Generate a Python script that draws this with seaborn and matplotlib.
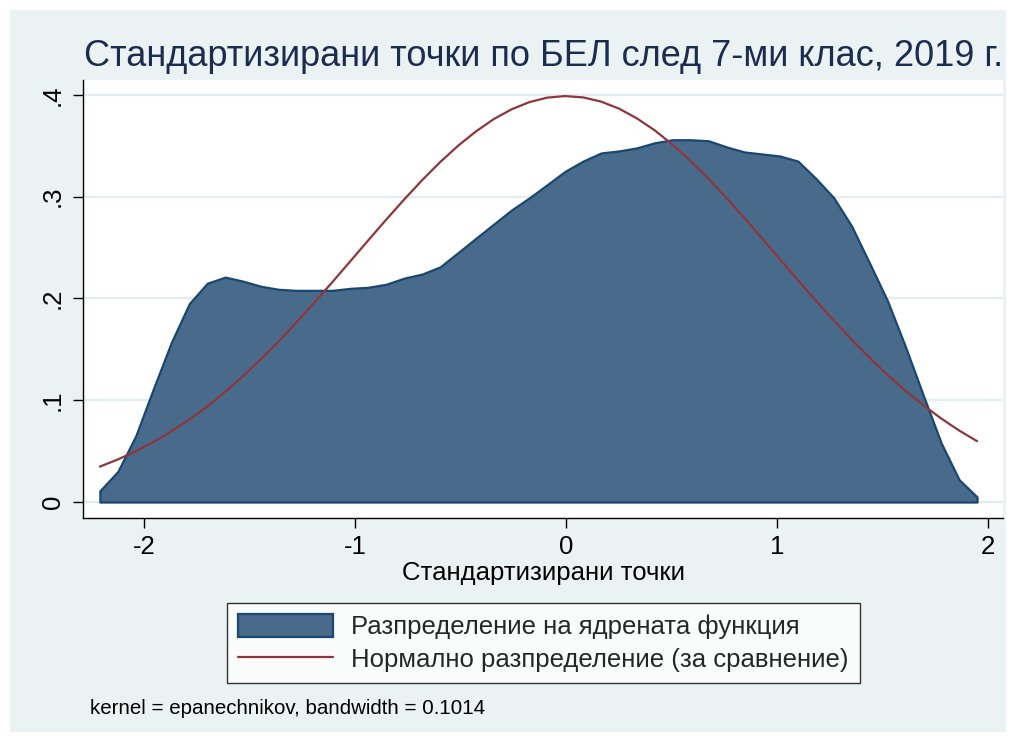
import matplotlib
matplotlib.use("Agg")
import matplotlib.pyplot as plt
from matplotlib.patches import Patch, Rectangle
from matplotlib.lines import Line2D
import seaborn as sns
import pandas as pd

# -----------------------
# Data
# -----------------------

x_points = [
    -2.209, -2.124, -2.039, -1.954, -1.870, -1.785, -1.700, -1.615, -1.530, -1.446,
    -1.361, -1.276, -1.191, -1.106, -1.021, -0.937, -0.852, -0.767, -0.682, -0.597,
    -0.512, -0.428, -0.343, -0.258, -0.173, -0.088, -0.004, 0.081, 0.166, 0.251,
    0.336, 0.420, 0.505, 0.590, 0.675, 0.760, 0.845, 0.929, 1.014, 1.099,
    1.184, 1.269, 1.354, 1.438, 1.523, 1.608, 1.693, 1.778, 1.863, 1.948,
]

kernel_density = [
    0.011, 0.030, 0.065, 0.112, 0.157, 0.195, 0.215, 0.221, 0.217, 0.212,
    0.209, 0.208, 0.208, 0.208, 0.210, 0.211, 0.214, 0.220, 0.224, 0.231,
    0.245, 0.259, 0.273, 0.287, 0.299, 0.312, 0.325, 0.335, 0.343, 0.345,
    0.348, 0.353, 0.356, 0.356, 0.355, 0.349, 0.344, 0.342, 0.340, 0.335,
    0.318, 0.299, 0.271, 0.235, 0.198, 0.153, 0.105, 0.058, 0.022, 0.005,
]

normal_density = [
    0.0348, 0.0418, 0.0499, 0.0591, 0.0695, 0.0811, 0.0940, 0.1083, 0.1238, 0.1403,
    0.1580, 0.1768, 0.1963, 0.2164, 0.2369, 0.2572, 0.2775, 0.2973, 0.3162, 0.3339,
    0.3500, 0.3640, 0.3762, 0.3859, 0.3930, 0.3974, 0.3989, 0.3976, 0.3935, 0.3866,
    0.3770, 0.3653, 0.3512, 0.3352, 0.3177, 0.2989, 0.2792, 0.2591, 0.2386, 0.2181,
    0.1979, 0.1783, 0.1595, 0.1419, 0.1251, 0.1095, 0.0952, 0.0821, 0.0703, 0.0598,
]

x_ticks = [-2, -1, 0, 1, 2]
x_tick_labels = ["-2", "-1", "0", "1", "2"]
y_ticks = [0, 0.1, 0.2, 0.3, 0.4]
y_tick_labels = ["0", ".1", ".2", ".3", ".4"]

title = "Стандартизирани точки по БЕЛ след 7-ми клас, 2019 г."
x_label = "Стандартизирани точки"
legend_labels = [
    "Разпределение на ядрената функция",
    "Нормално разпределение (за сравнение)",
]
note = "kernel = epanechnikov, bandwidth = 0.1014"

df = pd.DataFrame({
    "x": x_points,
    "kde": kernel_density,
    "normal": normal_density,
})

# -----------------------
# Style
# -----------------------

sns.set_theme(style="white")
plt.rcParams["font.family"] = ["Liberation Sans", "DejaVu Sans"]

bg_color = "#EAF2F3"
fill_color = "#486B8C"
edge_color = "#1A476F"
line_color = "#90353B"
grid_color = "#E3ECEF"
label_size = 18.5

fig = plt.figure(figsize=(10.16, 7.42), dpi=100)
fig.patch.set_facecolor("white")
fig.patches.append(
    Rectangle(
        (10 / 1016, 10 / 742),
        996 / 1016,
        722 / 742,
        transform=fig.transFigure,
        facecolor=bg_color,
        edgecolor="none",
        zorder=-10
    )
)

ax = fig.add_axes([83 / 1016, 1 - 518 / 742, 920 / 1016, 438 / 742])
ax.set_facecolor("white")

# -----------------------
# Marks
# -----------------------

ax.fill_between(
    df["x"],
    df["kde"],
    0,
    facecolor=fill_color,
    edgecolor=edge_color,
    linewidth=1.6,
    zorder=2
)

sns.lineplot(
    data=df,
    x="x",
    y="normal",
    color=line_color,
    linewidth=1.6,
    ax=ax,
    zorder=3
)

# -----------------------
# Axes
# -----------------------

ax.set_xlim(-2.289, 2.071)
ax.set_ylim(-0.0157, 0.4147)

ax.set_xticks(x_ticks)
ax.set_xticklabels(x_tick_labels, fontsize=label_size)
ax.set_yticks(y_ticks)
ax.set_yticklabels(
    y_tick_labels,
    fontsize=label_size,
    rotation=90,
    va="center"
)

ax.tick_params(
    axis="both",
    direction="out",
    length=7,
    width=1.0,
    color="black",
    labelcolor="black"
)
ax.tick_params(axis="x", pad=5, bottom=True)
ax.tick_params(axis="y", pad=6, left=True)

for y in y_ticks:
    ax.axhline(y, color=grid_color, linewidth=1.6, zorder=0)

for side in ["top", "right"]:
    ax.spines[side].set_visible(False)
for side in ["left", "bottom"]:
    ax.spines[side].set_color("black")
    ax.spines[side].set_linewidth(1.0)

ax.set_xlabel(x_label, fontsize=label_size, color="black", labelpad=2)
ax.set_ylabel("")

fig.text(
    544 / 1016,
    1 - 57 / 742,
    title,
    ha="center",
    va="center",
    fontsize=26,
    color="#1C2C4F"
)

# -----------------------
# Legend
# -----------------------

handles = [
    Patch(facecolor=fill_color, edgecolor=edge_color, linewidth=1.6),
    Line2D([0], [0], color=line_color, linewidth=1.6),
]

legend = fig.legend(
    handles,
    legend_labels,
    loc="center",
    bbox_to_anchor=(543.5 / 1016, 1 - 643 / 742),
    fontsize=label_size,
    frameon=True,
    fancybox=False,
    edgecolor="black",
    handlelength=3.7,
    handleheight=1.0,
    handletextpad=0.7,
    labelspacing=0.28,
    borderpad=0.42,
    borderaxespad=0
)
legend.get_frame().set_linewidth(1.0)
legend.get_frame().set_facecolor("white")

fig.text(
    90 / 1016,
    1 - 708 / 742,
    note,
    ha="left",
    va="center",
    fontsize=14.8,
    color="black"
)

plt.savefig("out.png", dpi=100)
plt.close()
